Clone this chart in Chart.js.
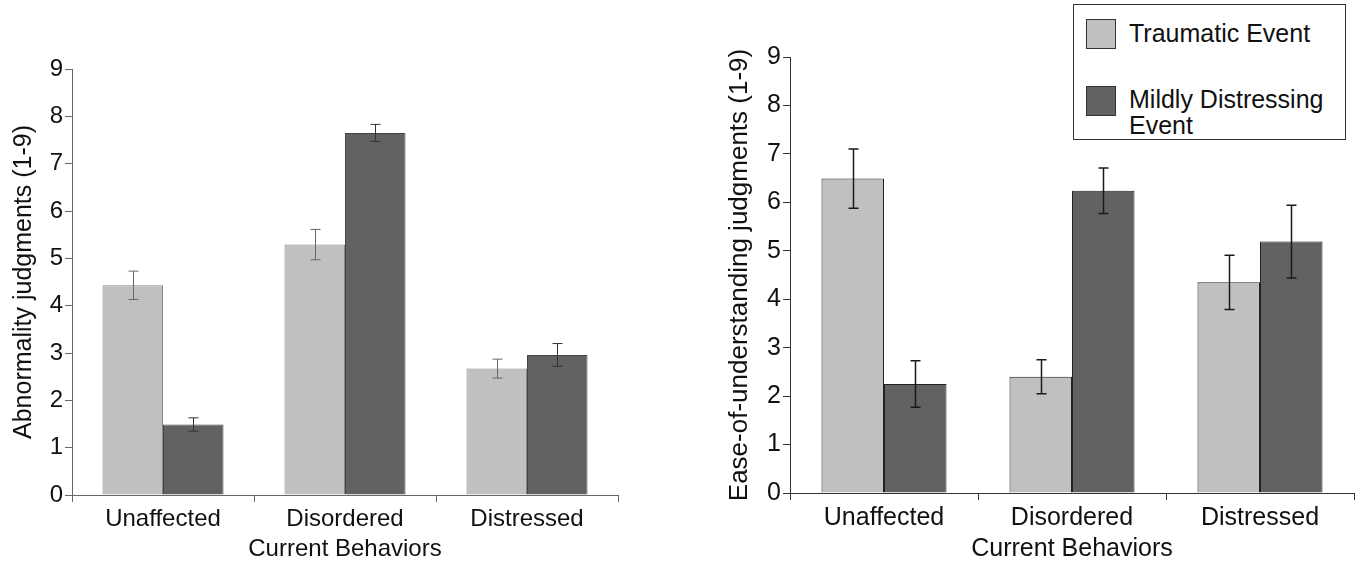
<!DOCTYPE html>
<html>
<head>
<meta charset="utf-8">
<script src="https://cdn.jsdelivr.net/npm/chart.js@4"></script>
<style>
  html, body { margin: 0; padding: 0; background: #fff; }
  body { width: 1360px; height: 566px; position: relative; overflow: hidden; font-family: "Liberation Sans", Arial, sans-serif; }
  .wrap { position: absolute; top: 0; height: 566px; width: 680px; }
  #legend { position: absolute; left: 1073px; top: 4px; width: 271px; height: 134px; border: 1.5px solid #333; background: #fff; }
  .sw { position: absolute; left: 12px; width: 28px; height: 28px; border: 1px solid #333; }
  .lt { position: absolute; left: 55px; font-size: 25px; line-height: 26px; color: #111; }
</style>
</head>
<body>
<div class="wrap" style="left:0"><canvas id="abnChart" width="680" height="566"></canvas></div>
<div class="wrap" style="left:680px"><canvas id="easeChart" width="680" height="566"></canvas></div>
<div id="legend">
  <div class="sw" style="top:14px;background:#c0c0c0"></div>
  <div class="lt" style="top:15px">Traumatic Event</div>
  <div class="sw" style="top:81px;background:#626262"></div>
  <div class="lt" style="top:81px">Mildly Distressing<br>Event</div>
</div>
<script>
// categories and values
const categories = ['Unaffected', 'Disordered', 'Distressed'];
const yTicks = [0, 1, 2, 3, 4, 5, 6, 7, 8, 9];

const abnTraumatic = [4.43, 5.29, 2.67];
const abnTraumaticErr = [0.30, 0.32, 0.20];
const abnMild = [1.49, 7.65, 2.96];
const abnMildErr = [0.14, 0.18, 0.24];

const easeTraumatic = [6.49, 2.40, 4.35];
const easeTraumaticErr = [0.61, 0.35, 0.56];
const easeMild = [2.25, 6.24, 5.19];
const easeMildErr = [0.48, 0.47, 0.75];

const FONT = '"Liberation Sans", Arial, sans-serif';

// draws +/- error whiskers on top of each bar
const errorBars = {
  id: 'errorBars',
  afterDatasetsDraw(chart, args, opts) {
    const ctx = chart.ctx;
    const yScale = chart.scales.y;
    chart.data.datasets.forEach((ds, i) => {
      const meta = chart.getDatasetMeta(i);
      ctx.save();
      ctx.strokeStyle = ds.errColor;
      ctx.lineWidth = opts.width;
      meta.data.forEach((bar, j) => {
        const v = ds.data[j];
        const e = ds.errors[j];
        const x = Math.round(bar.x) + 0.5;
        const yHi = yScale.getPixelForValue(v + e);
        const yLo = yScale.getPixelForValue(v - e);
        ctx.beginPath();
        ctx.moveTo(x, yHi);
        ctx.lineTo(x, yLo);
        ctx.moveTo(x - opts.cap, yHi);
        ctx.lineTo(x + opts.cap, yHi);
        ctx.moveTo(x - opts.cap, yLo);
        ctx.lineTo(x + opts.cap, yLo);
        ctx.stroke();
      });
      ctx.restore();
    });
  }
};

function makeChart(id, cfg) {
  return new Chart(document.getElementById(id), {
    type: 'bar',
    data: {
      labels: categories,
      datasets: [
        {
          label: 'Traumatic Event',
          data: cfg.light,
          errors: cfg.lightErr,
          errColor: cfg.lightErrColor,
          backgroundColor: '#c0c0c0',
          borderColor: cfg.lightBorder,
          borderWidth: 1,
          categoryPercentage: 0.665,
          barPercentage: 1
        },
        {
          label: 'Mildly Distressing Event',
          data: cfg.dark,
          errors: cfg.darkErr,
          errColor: cfg.darkErrColor,
          backgroundColor: '#626262',
          borderColor: cfg.darkBorder,
          borderWidth: 1,
          categoryPercentage: 0.665,
          barPercentage: 1
        }
      ]
    },
    options: {
      responsive: false,
      animation: false,
      devicePixelRatio: 1,
      layout: { padding: cfg.padding },
      plugins: {
        legend: { display: false },
        tooltip: { enabled: false },
        errorBars: { width: cfg.errWidth, cap: 5 }
      },
      scales: {
        x: {
          afterFit: (s) => { s.height = cfg.xHeight; },
          grid: { drawOnChartArea: false, drawTicks: true, tickLength: 7, color: cfg.axisColor, offset: true },
          border: { display: true, color: cfg.axisColor, width: 1 },
          ticks: { color: '#111', padding: 3, font: { family: FONT, size: cfg.labelSize } },
          title: {
            display: true,
            text: 'Current Behaviors',
            color: '#111',
            font: { family: FONT, size: cfg.labelSize },
            padding: { top: 0, bottom: cfg.xTitlePad }
          }
        },
        y: {
          min: 0,
          max: 9,
          afterFit: (s) => { s.width = cfg.yWidth; },
          afterBuildTicks: (s) => { s.ticks = yTicks.map(v => ({ value: v })); },
          grid: { drawOnChartArea: false, drawTicks: true, tickLength: 7, color: cfg.axisColor },
          border: { display: true, color: cfg.axisColor, width: 1 },
          ticks: { color: '#111', padding: 2, font: { family: FONT, size: cfg.tickSize } },
          title: {
            display: true,
            text: cfg.yTitle,
            color: '#111',
            font: { family: FONT, size: cfg.yTitleSize },
            padding: { top: cfg.yTitlePad, bottom: 0 }
          }
        }
      }
    },
    plugins: [errorBars]
  });
}

makeChart('abnChart', {
  light: abnTraumatic, lightErr: abnTraumaticErr,
  dark: abnMild, darkErr: abnMildErr,
  lightErrColor: '#666', darkErrColor: '#333',
  lightBorder: '#888', darkBorder: '#444',
  axisColor: '#666', errWidth: 1,
  padding: { left: 0, top: 69, right: 62, bottom: 0 },
  yWidth: 72, xHeight: 71,
  tickSize: 24, labelSize: 24, yTitleSize: 25,
  yTitlePad: 9, xTitlePad: 2,
  yTitle: 'Abnormality judgments (1-9)'
});

makeChart('easeChart', {
  light: easeTraumatic, lightErr: easeTraumaticErr,
  dark: easeMild, darkErr: easeMildErr,
  lightErrColor: '#1a1a1a', darkErrColor: '#1a1a1a',
  lightBorder: '#222', darkBorder: '#222',
  axisColor: '#333', errWidth: 1.5,
  padding: { left: 0, top: 57, right: 6, bottom: 0 },
  yWidth: 110, xHeight: 73,
  tickSize: 25, labelSize: 25, yTitleSize: 26,
  yTitlePad: 44, xTitlePad: 2,
  yTitle: 'Ease-of-understanding judgments (1-9)'
});
</script>
</body>
</html>
